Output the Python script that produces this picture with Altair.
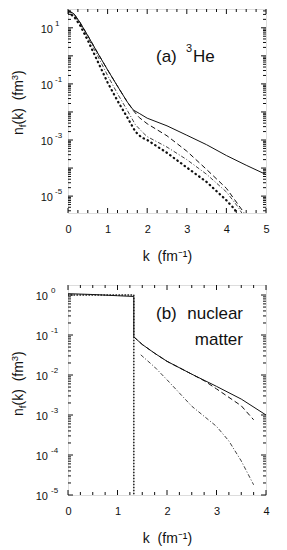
import altair as alt
import pandas as pd

FONT = "Liberation Sans"
INK = "#111111"

# ---------------- panel (a): 3He ----------------
a_solid_k = [0, 0.15, 0.3, 0.5, 0.75, 1.0, 1.25, 1.5, 1.65, 1.8, 2.0, 2.5, 3.0, 3.5, 4.0, 4.5, 5.0]
a_solid_n = [41.7, 31.6, 15.8, 5.25, 1.26, 0.316, 0.083, 0.0224, 0.0117, 0.0089, 0.0060,
             0.0032, 0.00148, 6.8e-4, 2.8e-4, 1.26e-4, 5.9e-5]

a_dash_k = [0, 0.15, 0.3, 0.5, 0.75, 1.0, 1.25, 1.5, 1.65, 1.8, 2.0, 2.5, 3.0, 3.5, 4.0, 4.45, 4.6]
a_dash_n = [41.7, 31.6, 15.8, 5.25, 1.26, 0.316, 0.083, 0.0224, 0.0112, 0.0063, 0.0038,
            0.00141, 4.0e-4, 8.9e-5, 1.9e-5, 2.5e-6, 1.4e-6]

a_dd_k = [0, 0.15, 0.3, 0.5, 0.75, 1.0, 1.25, 1.5, 1.7, 1.9, 2.0, 2.5, 3.0, 3.5, 4.0, 4.3, 4.45]
a_dd_n = [39.8, 28.2, 14.1, 4.47, 1.0, 0.2, 0.0447, 0.0112, 0.00355, 0.00178, 0.00132,
          5.6e-4, 2.0e-4, 6.0e-5, 1.41e-5, 4.0e-6, 1.8e-6]

a_dot_k = [0, 0.15, 0.3, 0.5, 0.75, 1.0, 1.25, 1.5, 1.7, 1.85, 2.0, 2.5, 3.0, 3.5, 4.0, 4.2, 4.3]
a_dot_n = [35.5, 25.1, 12.6, 3.55, 0.63, 0.112, 0.025, 0.0063, 0.002, 0.00126, 0.001,
           3.5e-4, 1.05e-4, 3.2e-5, 7.1e-6, 3.5e-6, 2.0e-6]

# ---------------- panel (b): nuclear matter ----------------
b_solid_k = [0, 0.5, 1.0, 1.33, 1.33, 1.4, 1.5, 1.75, 2.0, 2.5, 3.0, 3.5, 4.0]
b_solid_n = [1.08, 1.03, 0.96, 0.92, 0.09, 0.075, 0.058, 0.035, 0.022, 0.0105, 0.0052, 0.0025, 0.001]

b_dash_k = [1.33, 1.4, 1.5, 1.75, 2.0, 2.5, 2.75, 3.0, 3.5, 3.75]
b_dash_n = [0.09, 0.075, 0.058, 0.035, 0.022, 0.0105, 0.0072, 0.0045, 0.0017, 0.00076]

b_dd_k = [1.47, 1.75, 2.0, 2.5, 3.0, 3.25, 3.5, 3.75]
b_dd_n = [0.032, 0.0158, 0.0076, 0.00166, 5.2e-4, 2.24e-4, 7.1e-5, 1.8e-5]

b_dot_k = [0, 1.33, 1.33]
b_dot_n = [1.0, 1.0, 1e-5]

# ---------------- tick labels ----------------
a_xlabels = [0, 1, 2, 3, 4, 5]
b_xlabels = [0, 1, 2, 3, 4]
a_ylab_vals = [10, 0.1, 1e-3, 1e-5]
a_ylab_exps = ["1", "-1", "-3", "-5"]
b_ylab_vals = [1, 0.1, 0.01, 1e-3, 1e-4, 1e-5]
b_ylab_exps = ["0", "-1", "-2", "-3", "-4", "-5"]

W = 198
HA = 204
HB = 210

xa = alt.Scale(domain=[0, 5], nice=False, zero=False)
ya = alt.Scale(type="log", domain=[2.5e-6, 46.8], nice=False)
xb = alt.Scale(domain=[0, 4], nice=False, zero=False)
yb = alt.Scale(type="log", domain=[1e-5, 1.78], nice=False)

TITLE = "k\u00a0\u00a0(fm\u207b\u00b9)"


def xaxis(vals):
    return alt.Axis(values=vals, ticks=False, domain=False, grid=False, labelPadding=10,
                    labelFontSize=11, labelFont=FONT, labelColor=INK, format="d",
                    labelFlush=False, title=TITLE, titleFont=FONT,
                    titleFontSize=14, titleFontWeight="normal", titleColor=INK, titlePadding=15)


def sdf(k, n):
    return pd.DataFrame({"k": k, "n": n, "i": list(range(len(k)))})


def line(df, xs, ys, ax, **mark):
    return alt.Chart(df).mark_line(clip=True, color=INK, **mark).encode(
        x=alt.X("k:Q", scale=xs, axis=ax, title=TITLE),
        y=alt.Y("n:Q", scale=ys, axis=None),
        order="i:Q",
    )


def xticks(vals, xs, ax, H, length):
    df = pd.DataFrame({"t": vals})
    m = dict(color=INK, strokeWidth=1)
    return [
        alt.Chart(df).mark_rule(**m).encode(
            x=alt.X("t:Q", scale=xs, axis=ax, title=TITLE), y=alt.value(H), y2=alt.value(H - length)),
        alt.Chart(df).mark_rule(**m).encode(
            x=alt.X("t:Q", scale=xs, axis=ax, title=TITLE), y=alt.value(0), y2=alt.value(length)),
    ]


def yticks(vals, ys, length):
    df = pd.DataFrame({"t": vals})
    m = dict(color=INK, strokeWidth=1)
    return [
        alt.Chart(df).mark_rule(**m).encode(
            y=alt.Y("t:Q", scale=ys, axis=None), x=alt.value(0), x2=alt.value(length)),
        alt.Chart(df).mark_rule(**m).encode(
            y=alt.Y("t:Q", scale=ys, axis=None), x=alt.value(W), x2=alt.value(W - length)),
    ]


def ylabels(vals, exps, ys, x10, xexp):
    df = pd.DataFrame({"v": vals, "e": exps})
    base = alt.Chart(df).mark_text(font=FONT, fontSize=11, align="right", baseline="middle",
                                   dy=2, color=INK).encode(
        y=alt.Y("v:Q", scale=ys, axis=None), x=alt.value(x10), text=alt.value("10"))
    exp = alt.Chart(df).mark_text(font=FONT, fontSize=8, align="left", baseline="middle",
                                  dy=-4, color=INK).encode(
        y=alt.Y("v:Q", scale=ys, axis=None), x=alt.value(xexp), text="e:N")
    return [base, exp]


one = pd.DataFrame({"z": [0]})


def txt(s, x, y, size, **kw):
    return alt.Chart(one).mark_text(text=s, font=FONT, fontSize=size, color=INK, **kw).encode(
        x=alt.value(x), y=alt.value(y))


def ytitle(y0, xb):
    fs = 14
    parts = []
    y = y0
    parts.append(txt("n", xb, y, fs, angle=270, align="left", baseline="alphabetic"))
    y -= 7.8
    parts.append(txt("f", xb + 3, y, 9.5, angle=270, align="left", baseline="alphabetic"))
    y -= 2.8
    parts.append(txt("(k)\u00a0\u00a0(fm", xb, y, fs, angle=270, align="left", baseline="alphabetic"))
    y -= 44.2
    parts.append(txt("3", xb - 5, y, 9.5, angle=270, align="left", baseline="alphabetic"))
    y -= 5.3
    parts.append(txt(")", xb, y, fs, angle=270, align="left", baseline="alphabetic"))
    return parts


# ----- panel a -----
axa = xaxis(a_xlabels)
a_minor_x = [i * 0.25 for i in range(21) if i % 4]
a_major_y = [1e-5, 1e-4, 1e-3, 1e-2, 1e-1, 1, 10]
a_minor_y = [m * 10.0 ** d for d in range(-6, 2) for m in range(2, 10) if 2.5e-6 <= m * 10.0 ** d <= 46.8]

layers_a = [
    line(sdf(a_solid_k, a_solid_n), xa, ya, axa, strokeWidth=1),
    line(sdf(a_dash_k, a_dash_n), xa, ya, axa, strokeWidth=1, strokeDash=[5, 3]),
    line(sdf(a_dd_k, a_dd_n), xa, ya, axa, strokeWidth=0.8, strokeDash=[4, 2, 1, 2]),
    line(sdf(a_dot_k, a_dot_n), xa, ya, axa, strokeWidth=2.2, strokeDash=[0.5, 4], strokeCap="round"),
]
layers_a += xticks(a_xlabels, xa, axa, HA, 5) + xticks(a_minor_x, xa, axa, HA, 3)
layers_a += yticks(a_major_y, ya, 5) + yticks(a_minor_y, ya, 3)
layers_a += ylabels(a_ylab_vals, a_ylab_exps, ya, -15, -13)
layers_a += ytitle(126, -45)
layers_a += [
    txt("(a)", 88, 53, 17, align="left", baseline="alphabetic"),
    txt("3", 118, 43, 11, align="left", baseline="alphabetic"),
    txt("He", 125, 53, 17, align="left", baseline="alphabetic"),
]
panel_a = alt.layer(*layers_a).properties(width=W, height=HA)

# ----- panel b -----
axb = xaxis(b_xlabels)
b_minor_x = [i * 0.25 for i in range(17) if i % 4]
b_major_y = [1e-5, 1e-4, 1e-3, 1e-2, 1e-1, 1]
b_minor_y = [m * 10.0 ** d for d in range(-5, 1) for m in range(2, 10) if m * 10.0 ** d <= 1.78]

layers_b = [
    line(sdf(b_solid_k, b_solid_n), xb, yb, axb, strokeWidth=1),
    line(sdf(b_dash_k, b_dash_n), xb, yb, axb, strokeWidth=1, strokeDash=[5, 3]),
    line(sdf(b_dd_k, b_dd_n), xb, yb, axb, strokeWidth=0.8, strokeDash=[4, 2, 1, 2]),
    line(sdf(b_dot_k, b_dot_n), xb, yb, axb, strokeWidth=1.5, strokeDash=[0.5, 2.5], strokeCap="round"),
]
layers_b += xticks(b_xlabels, xb, axb, HB, 5) + xticks(b_minor_x, xb, axb, HB, 3)
layers_b += yticks(b_major_y, yb, 5) + yticks(b_minor_y, yb, 3)
layers_b += ylabels(b_ylab_vals, b_ylab_exps, yb, -20, -17)
layers_b += ytitle(131, -45)
layers_b += [
    txt("(b)", 88, 34, 17, align="left", baseline="alphabetic"),
    txt("nuclear", 175, 34, 17, align="right", baseline="alphabetic"),
    txt("matter", 175, 60, 17, align="right", baseline="alphabetic"),
]
panel_b = alt.layer(*layers_b).properties(width=W, height=HB)

chart = alt.vconcat(panel_a, panel_b, spacing=20).properties(
    padding={"left": 1, "top": 0, "right": 4, "bottom": 0}
).configure_view(stroke=INK, strokeWidth=1).configure(background="white")

chart.save("out.html", embed_options={"renderer": "svg", "actions": False})
